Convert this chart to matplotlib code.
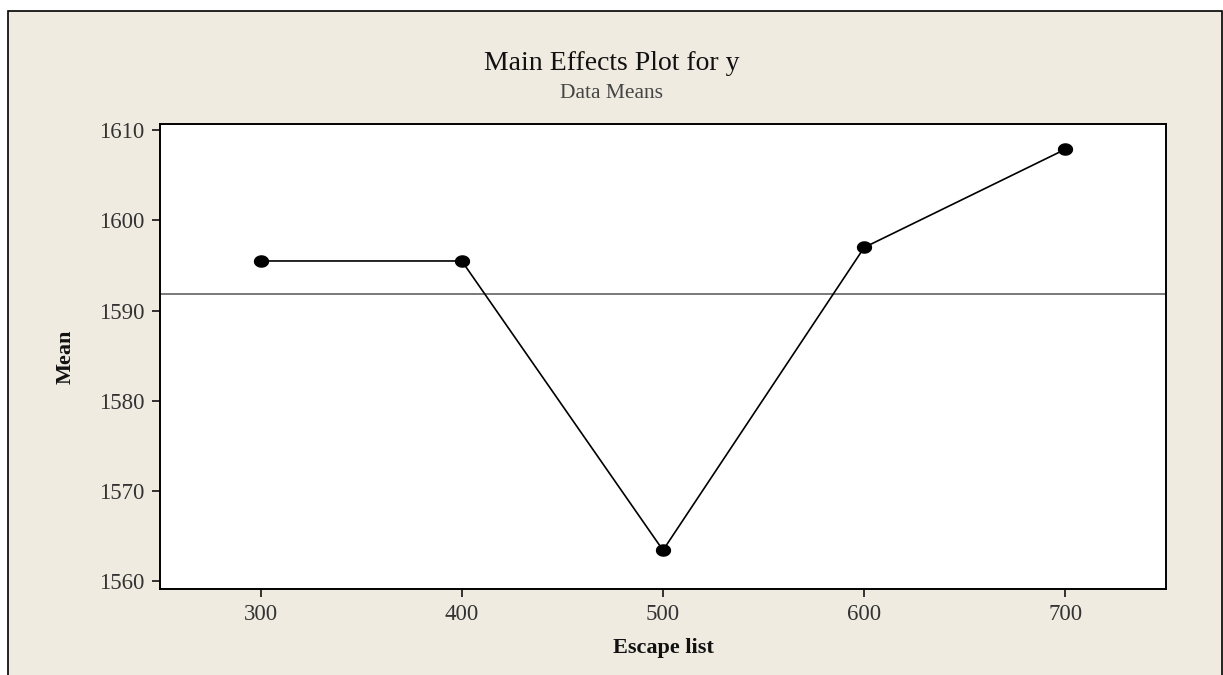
import matplotlib
matplotlib.use('Agg')
from matplotlib import pyplot as plt
from matplotlib.patches import Rectangle
from matplotlib.path import Path
import numpy as np

# main effects of "Escape list" on y (data means)
levels = [300, 400, 500, 600, 700]
means = [1595.5, 1595.5, 1563.4, 1597.0, 1607.9]
y_ticks = [1560, 1570, 1580, 1590, 1600, 1610]

title = 'Main Effects Plot for y'
subtitle = 'Data Means'
x_label = 'Escape list'
y_label = 'Mean'

BG = '#efebe1'
plt.rcParams['font.family'] = ['Liberation Serif', 'DejaVu Serif']

fig = plt.figure(figsize=(12.23, 6.75), dpi=100, facecolor='white')

# beige panel with black frame (bottom edge falls outside the image)
W, H = 1223, 675
panel = Rectangle((8 / W, -0.05), (1222 - 8) / W, 1 - 11 / H + 0.05,
                  transform=fig.transFigure, facecolor=BG, edgecolor='black',
                  linewidth=1.2, zorder=0)
fig.add_artist(panel)

ax = fig.add_axes([160 / W, 1 - 589 / H, (1166 - 160) / W, (589 - 124) / H])
ax.set_facecolor('white')

# slightly wide oval marker like the original
t = np.linspace(0, 2 * np.pi, 60)
oval = Path(np.column_stack([1.25 * np.cos(t), np.sin(t)]))

ax.plot(levels, means, color='black', linewidth=1.2, marker=oval,
        markersize=10, markerfacecolor='black', markeredgecolor='black', zorder=3)
ax.axhline(np.mean(means), color='#555555', linewidth=1.1, zorder=2)

ax.set_xlim(250, 750)
ax.set_ylim(1559.1, 1610.7)
ax.set_xticks(levels)
ax.set_yticks(y_ticks)

for s in ax.spines.values():
    s.set_linewidth(1.4)
    s.set_color('black')
ax.tick_params(direction='out', length=6, width=1.1, color='black',
               labelsize=16.5, labelcolor='#333333', pad=5)

ax.set_xlabel(x_label, fontsize=16, color='#111111', fontweight='bold', labelpad=9)
ax.set_ylabel(y_label, fontsize=16, color='#111111', fontweight='bold', labelpad=17)

fig.text(612 / W, 1 - 63 / H, title, ha='center', va='center', fontsize=20,
         color='#111111')
fig.text(612 / W, 1 - 94 / H, subtitle, ha='center', va='center', fontsize=15.5,
         color='#444444')

fig.savefig('out.png', dpi=100, facecolor=fig.get_facecolor())
